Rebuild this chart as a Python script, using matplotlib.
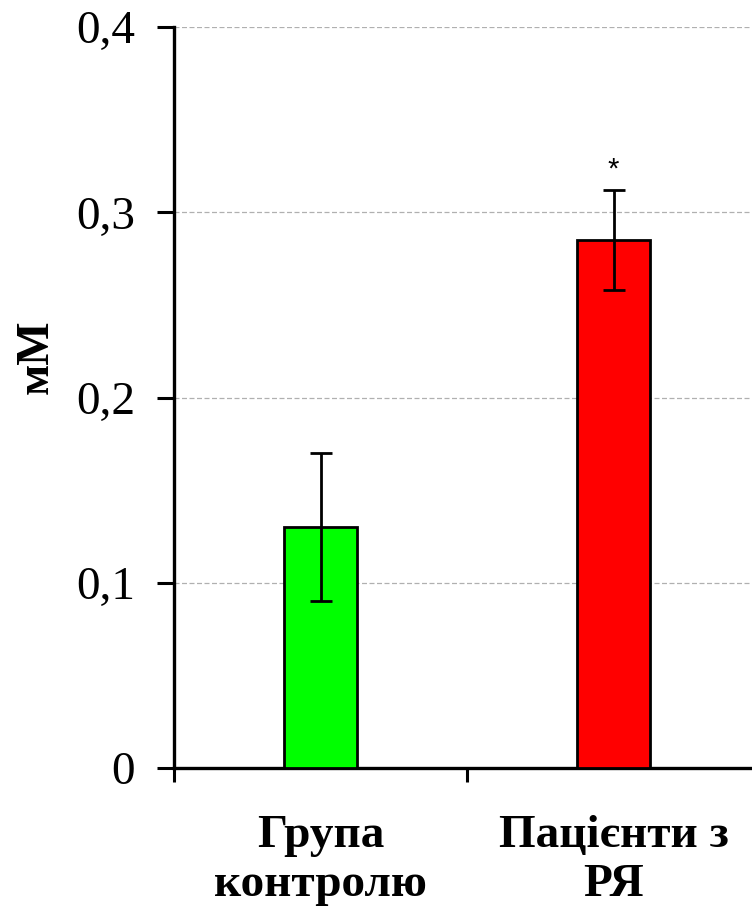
import matplotlib
matplotlib.use("Agg")
import matplotlib.pyplot as plt
from matplotlib.ticker import FixedLocator, FuncFormatter

categories = ["Група\nконтролю", "Пацієнти з\nРЯ"]
values = [0.13, 0.285]
errors = [0.040, 0.027]
colors = ["#00ff00", "#ff0000"]
y_ticks = [0, 0.1, 0.2, 0.3, 0.4]
y_tick_labels = ["0", "0,1", "0,2", "0,3", "0,4"]
significance = ["", "*"]

plt.rcParams['font.family'] = ['Liberation Serif', 'DejaVu Serif']

fig = plt.figure(figsize=(7.52, 9.15), dpi=100)
ax = fig.add_axes([174/752, 1-768/915, 586/752, (768-27)/915])

x = list(range(len(categories)))
ax.bar(x, values, width=0.25, color=colors, edgecolor="black", linewidth=2.0, zorder=3)
ax.errorbar(x, values, yerr=errors, fmt="none", ecolor="black", elinewidth=2.0,
            capsize=8, capthick=2.0, zorder=4)
for xi, v, e, s in zip(x, values, errors, significance):
    if s:
        ax.text(xi, v + e + 0.0035, s, ha="center", va="bottom", fontsize=21,
                family=['Liberation Sans', 'DejaVu Sans'])

ax.set_xlim(-0.5, 1.5)
ax.set_ylim(0, 0.4)
ax.set_yticks(y_ticks)
ax.set_yticklabels(y_tick_labels, fontsize=34)
ax.yaxis.grid(True, color="#b0b0b0", linestyle=(0, (4, 2)), linewidth=0.9, zorder=0)

ax.xaxis.set_major_locator(FixedLocator([-0.5, 0.5, 1.5]))
ax.xaxis.set_major_formatter(FuncFormatter(lambda v, p: ""))
ax.xaxis.set_minor_locator(FixedLocator(x))
ax.set_xticklabels(categories, minor=True, fontsize=34, fontweight="bold", linespacing=1.22)
ax.tick_params(axis="x", which="minor", length=0, pad=34)
ax.tick_params(axis="x", which="major", length=10, width=2.2)
ax.tick_params(axis="y", which="major", length=12, width=2.2, pad=16)

for side in ["top", "right"]:
    ax.spines[side].set_visible(False)
for side in ["left", "bottom"]:
    ax.spines[side].set_linewidth(2.4)
    ax.spines[side].set_color("black")

fig.text(37/752, 1-357/915, "мМ", rotation=90, ha="center", va="center",
         fontsize=33, fontweight="bold")

fig.savefig("out.png", dpi=100)
